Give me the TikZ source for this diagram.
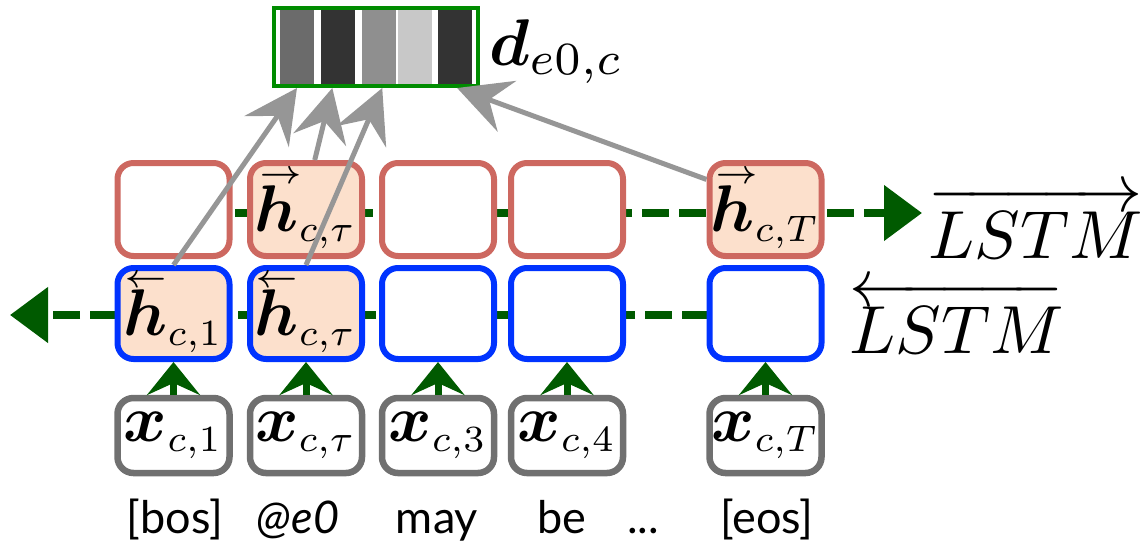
\documentclass[tikz,border=0pt]{standalone}
\usepackage{amsmath}
\usepackage{bm}
\usepackage{graphicx}
\usepackage{fontspec}
\newfontfamily\wordfont{Lato}
\usetikzlibrary{arrows.meta,calc}
\pgfdeclarelayer{background}
\pgfsetlayers{background,main}
\definecolor{redb}{RGB}{205,104,96}
\definecolor{peach}{RGB}{252,224,204}
\definecolor{blueb}{RGB}{0,51,255}
\definecolor{greyb}{RGB}{112,112,112}
\definecolor{dgreen}{RGB}{0,90,0}
\definecolor{vgreen}{RGB}{0,140,0}
\definecolor{agrey}{RGB}{150,150,150}
\definecolor{sA}{RGB}{107,107,107}
\definecolor{sB}{RGB}{51,51,51}
\definecolor{sC}{RGB}{143,143,143}
\definecolor{sD}{RGB}{200,200,200}
\newcommand\lvecb[1]{\rlap{\raisebox{7.4pt}{$\scriptscriptstyle\leftarrow$}}#1}
\newcommand\rvecb[1]{\rlap{\kern0.6pt\raisebox{7.4pt}{$\scriptscriptstyle\rightarrow$}}#1}
\newcommand\subs[1]{\scalebox{0.8}{$\scriptstyle #1$}}
\newcommand\cellmath[1]{\scalebox{6.6}{$#1$}}
\begin{document}
\begin{tikzpicture}[x=1pt,y=-1pt,
 cell/.style={rectangle, rounded corners=16pt, line width=6pt, minimum width=112pt, inner sep=0pt, fill=white},
 fwd/.style={cell, draw=redb, minimum height=93pt},
 bwd/.style={cell, draw=blueb, minimum height=91pt},
 hot/.style={fill=peach},
 inp/.style={cell, draw=greyb, minimum height=75pt, line width=6.5pt},
 flow/.style={draw=dgreen, line width=8pt, dash pattern=on 27pt off 10pt, -{Triangle[length=38pt,width=54pt]}},
 up/.style={draw=dgreen, line width=7pt, -{Stealth[length=33pt,width=53pt,inset=12pt]}},
 att/.style={draw=agrey, line width=5pt, -{Stealth[length=53pt,width=54pt,inset=19pt]}},
 word/.style={font=\wordfont\fontsize{45}{50}\selectfont, anchor=base, inner sep=0pt},
 vecbox/.style={rectangle, draw=vgreen, line width=4pt, minimum width=204pt, minimum height=78pt, inner sep=0pt},
 lab/.style={anchor=base west, inner sep=0pt}
]
\useasboundingbox (0,0) rectangle (1148,550);

% forward row
\node[fwd] (r1) at (173.5,209.5) {};
\node[fwd,hot] (r2) at (306,209.5) {\cellmath{\rvecb{\bm h}_{\subs{c,\tau}}}};
\node[fwd] (r3) at (438,209.5) {};
\node[fwd] (r4) at (567,209.5) {};
\node[fwd,hot] (r5) at (765.5,209.5) {\cellmath{\rvecb{\bm h}_{\subs{c,T}}}};
% backward row
\node[bwd,hot] (b1) at (173.5,313.5) {\cellmath{\lvecb{\bm h}_{\subs{c,1}}}};
\node[bwd,hot] (b2) at (306,313.5) {\cellmath{\lvecb{\bm h}_{\subs{c,\tau}}}};
\node[bwd] (b3) at (438,313.5) {};
\node[bwd] (b4) at (567,313.5) {};
\node[bwd] (b5) at (765.5,313.5) {};
% inputs
\node[inp] (g1) at (173.5,435.5) {\cellmath{\bm x_{\subs{c,1}}}};
\node[inp] (g2) at (306,435.5) {\cellmath{\bm x_{\subs{c,\tau}}}};
\node[inp] (g3) at (438,435.5) {\cellmath{\bm x_{\subs{c,3}}}};
\node[inp] (g4) at (567,435.5) {\cellmath{\bm x_{\subs{c,4}}}};
\node[inp] (g5) at (765.5,435.5) {\cellmath{\bm x_{\subs{c,T}}}};

% dashed recurrent lines
\coordinate (fhead) at (922,213);
\coordinate (bhead) at (10,315);
\begin{pgfonlayer}{background}
\draw[flow] ([shift={(-12.5,3.5)}]r1.center) -- (fhead);
\draw[flow] ([shift={(-19.5,1.5)}]b5.center) -- (bhead);
\end{pgfonlayer}

% input arrows
\foreach \i in {1,...,5} {\draw[up] (g\i.north) -- (b\i.south);}

% output vector
\node[vecbox] (d) at (376,47) {};
\fill[sA] (280,10) rectangle (314,84);
\fill[sB] (321,10) rectangle (355,84);
\fill[sC] (362,10) rectangle (396,84);
\fill[sD] (398,10) rectangle (432,84);
\fill[sB] (438,10) rectangle (472,84);
\node[anchor=base west, inner sep=0pt] (dl) at (489,65) {\scalebox{6.6}{$\bm d_{e0,c}$}};

% attention arrows
\draw[att] (b1.north) -- ($(d.south west)!0.12!(d.south east)$);
\draw[att] (r2.80) -- ($(d.south west)!0.29!(d.south east)$);
\draw[att] (b2.north) -- ($(d.south west)!0.53!(d.south east)$);
\draw[att] (r5.153) -- ($(d.south west)!0.89!(d.south east)$);

% LSTM labels
\node[lab] (lf) at (928,258) {\scalebox{6.8}{$\overrightarrow{LSTM}$}};
\node[lab] (lb) at (849,353) {\scalebox{6.8}{$\overleftarrow{LSTM}$}};

% words
\node[word] (w1) at (175,533) {[bos]};
\node[word] (w2) at (298,533) {\itshape @e0};
\node[word] (w3) at (437,533) {may};
\node[word] (w4) at (562,533) {be};
\node[word] (w5) at (643,533) {...};
\node[word] (w6) at (767,533) {[eos]};
\end{tikzpicture}
\end{document}
